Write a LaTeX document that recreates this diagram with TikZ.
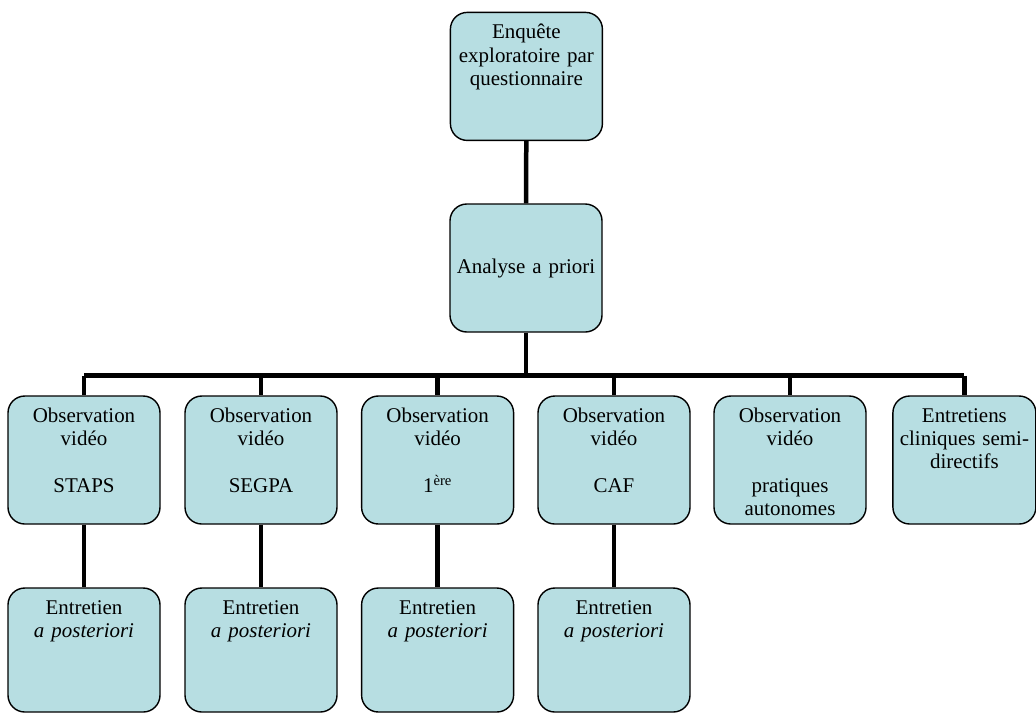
\documentclass[tikz,border=0pt]{standalone}
\usepackage{fontspec}
\setmainfont{Liberation Serif}
\usepackage{tikz}
\usetikzlibrary{shapes,arrows}
\usetikzlibrary{positioning}
\definecolor{boxblue}{RGB}{183,222,226}
\tikzstyle{block} = [rectangle, draw, fill=boxblue, line width=1pt,
text width=3.7cm, align=center, rounded corners=0.42cm, inner xsep=0.05cm, inner ysep=0pt,
text height=0.66cm, text depth=2.54cm]
\tikzstyle{blockmid} = [rectangle, draw, fill=boxblue, line width=1pt,
text width=3.7cm, align=center, rounded corners=0.42cm, inner xsep=0.05cm, minimum height=3.2cm]
\tikzstyle{blocklow} = [block, text depth=2.44cm]
\tikzstyle{blocknarrow} = [block, text width=3.475cm]
\tikzstyle{line} = [draw, line width=3.2pt]

\begin{document}
\begin{tikzpicture}[font=\fontsize{14.9pt}{16.5pt}\selectfont]
	\useasboundingbox (0,0) rectangle (25.9,-17.825);
	\node [block] at (13.16,-1.91) (Enquete) {Enquête\\exploratoire par\\questionnaire};
	\node [blockmid] at (13.15,-6.7) (Analyse) {Analyse a priori};
	\node [block] at (2.1,-11.5) (STAPS) {Observation\\vidéo\\[17pt]STAPS};
	\node [block] at (6.525,-11.5) (SEGPA) {Observation\\vidéo\\[17pt]SEGPA};
	\node [block] at (10.94,-11.5) (Premiere) {Observation\\vidéo\\[17pt]1\textsuperscript{ère}};
	\node [block] at (15.35,-11.5) (CAF) {Observation\\vidéo\\[17pt]CAF};
	\node [block] at (19.75,-11.5) (Autonomes) {Observation\\vidéo\\[17pt]pratiques\\autonomes};
	\node [blocknarrow] at (24.11,-11.5) (Cliniques) {Entretiens\\cliniques semi-\\directifs};
	\node [blocklow] at (2.1,-16.25) (postSTAPS) {Entretien\\\textit{a posteriori}};
	\node [blocklow] at (6.525,-16.25) (postSEGPA) {Entretien\\\textit{a posteriori}};
	\node [blocklow] at (10.94,-16.25) (postPremiere) {Entretien\\\textit{a posteriori}};
	\node [blocklow] at (15.35,-16.25) (postCAF) {Entretien\\\textit{a posteriori}};
	\path [line] (Enquete) -- (Analyse);
	\path [line] (Analyse.south) -- ++(0,-1.075) coordinate (bar);
	\path [line] (bar -| STAPS.north) -- (bar -| Cliniques.north);
	\foreach \obs in {STAPS,SEGPA,Premiere,CAF,Autonomes,Cliniques}
		\path [line] (bar -| \obs.north) -- (\obs.north);
	\path [line] (STAPS) -- (postSTAPS);
	\path [line] (SEGPA) -- (postSEGPA);
	\path [line] (Premiere) -- (postPremiere);
	\path [line] (CAF) -- (postCAF);
\end{tikzpicture}
\end{document}
